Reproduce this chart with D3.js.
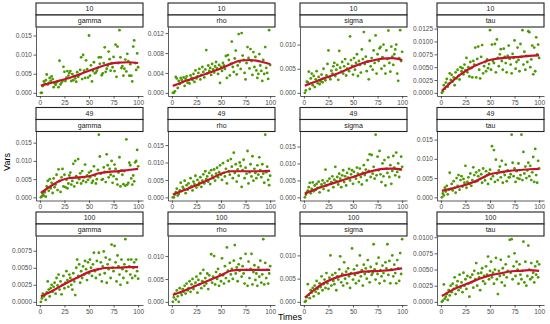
<!DOCTYPE html>
<html>
<head>
<meta charset="utf-8">
<script src="https://cdn.jsdelivr.net/npm/d3@7"></script>
<style>
  body { margin: 0; background: #fff; }
  text { font-family: "Liberation Sans", Arial, sans-serif; }
</style>
</head>
<body>
<div id="chart"></div>
<script>
// facet labels
const sizes = ["10", "49", "100"]
const params = ["gamma", "rho", "sigma", "tau"]

// x values of every point (Times)
const times = [1,2,3,4,5,6,7,8,9,10,11,12,13,14,15,16,17,18,19,20,21,22,23,24,25,26,27,28,29,30,
  31,32,33,34,35,36,37,38,39,40,41,42,43,44,45,46,47,48,49,50,51,52,53,54,55,56,57,58,59,60,
  61,62,63,64,65,66,67,68,69,70,71,72,73,74,75,76,77,78,79,80,81,82,83,84,85,86,87,88,89,90,
  91,92,93,94,95,96,97,98,99,100]
// x values of the fitted (red) line
const smoothTimes = [1,10,20,30,40,50,60,70,80,90,100]

// Vars, in units of 1e-4
const gamma10 = [0,0,18,30,24,33,48,22,26,39, 31,43,36,15,25,21,27,30,15,84, 22,27,31,68,55,31,40,57,45,52,
  57,31,49,33,44,38,29,54,42,47, 60,93,36,99,58,39,85,62,40,150, 45,72,30,57,80,51,53,58,65,93,
  76,93,46,51,78,119,55,63,71,108, 88,58,78,67,94,57,126,42,121,78, 164,93,65,70,45,63,87,56,102,83,
  45,75,45,30,121,137,78,60,103,67]
const rho10 = [0,0,3,32,29,10,24,18,30,26, 22,31,14,28,33,20,25,19,35,30, 26,38,22,45,29,33,40,48,27,36,
  52,42,31,47,86,39,55,44,50,36, 58,47,41,53,62,49,38,56,20,52, 44,60,55,48,74,30,76,66,35,58,
  103,52,42,69,85,37,55,118,62,48, 120,75,66,40,27,60,92,70,49,88, 64,36,82,52,72,45,30,38,78,55,
  44,24,66,38,92,50,40,28,126,56]
const sigma10 = [0,5,23,22,44,8,30,40,16,35, 12,28,45,20,33,18,24,38,22,50, 30,26,36,60,88,32,28,46,40,55,
  62,35,48,58,27,87,52,44,64,40, 55,70,36,50,60,45,117,68,56,38, 72,48,62,80,35,66,58,42,90,70,
  126,60,75,45,65,28,108,55,72,48, 88,62,119,40,80,66,92,95,50,74, 100,56,40,88,70,129,62,44,96,75,
  58,80,90,100,40,25,72,130,66,85]
const tau10 = [0,3,15,8,20,27,12,18,38,25, 35,22,30,15,40,28,45,33,26,50, 42,48,36,55,44,68,40,50,32,60,
  48,30,62,55,88,30,66,90,45,28, 70,93,38,52,60,42,65,48,56,122, 45,94,62,58,95,40,104,68,52,75,
  85,62,45,86,70,58,40,72,92,66, 55,38,76,68,102,47,60,88,64,42, 95,70,122,55,80,45,72,60,120,118,
  50,65,92,36,88,42,108,75,94,68]
const gamma49 = [0,3,10,5,14,2,30,45,18,50, 25,40,12,52,28,35,62,20,77,45, 15,55,78,30,62,28,48,25,38,60,
  68,35,45,92,30,100,58,40,105,50, 66,38,72,45,55,90,42,60,48,68, 55,72,40,45,85,60,38,50,75,172,
  112,65,48,50,82,70,42,118,88,55, 78,62,100,40,58,90,78,50,35,68, 110,30,74,62,36,72,32,159,35,40,
  95,88,52,35,60,44,96,100,130,85]
const rho49 = [0,0,8,15,25,5,10,20,42,18, 30,25,48,12,35,22,40,28,55,32, 20,45,38,62,28,50,35,42,58,30,
  48,66,40,75,52,60,45,70,38,78, 62,55,80,48,68,85,58,72,92,65, 50,98,70,60,82,40,105,75,65,110,
  88,55,128,70,95,45,80,62,100,90, 30,78,108,55,85,68,133,40,72,95, 60,118,48,82,70,55,92,65,115,78,
  58,95,68,42,180,72,88,50,35,62]
const sigma49 = [0,8,15,20,30,43,12,25,44,18, 35,22,40,28,46,15,30,38,50,25, 42,82,35,48,20,55,40,45,62,30,
  52,90,48,60,38,70,55,30,65,80, 45,62,35,72,58,84,50,68,80,40, 75,62,55,88,70,45,85,60,38,72,
  95,66,82,50,110,78,127,60,125,70, 90,55,185,65,120,80,137,68,45,100, 62,110,35,85,72,118,60,95,40,78,
  122,88,65,132,75,100,60,82,120,90]
const tau49 = [0,10,5,25,15,30,8,20,64,22, 35,18,42,25,12,50,30,58,20,45, 55,28,48,38,82,25,40,52,35,62,
  30,45,78,58,40,65,42,55,70,48, 60,38,75,52,44,68,58,35,62,72, 48,133,55,123,40,98,62,45,70,80,
  52,95,38,65,58,85,42,70,52,52, 60,163,90,55,75,40,68,50,88,48, 58,163,45,118,62,80,50,70,90,55,
  82,45,65,105,40,126,58,38,95,75]
const gamma100 = [0,5,12,8,10,3,14,30,18,8, 20,25,15,22,28,12,35,24,40,18, 30,11,25,38,20,28,45,32,22,40,
  35,25,18,42,30,10,50,62,38,55, 28,45,35,52,40,60,48,32,58,42, 62,50,38,55,72,45,35,60,48,72,
  40,58,30,52,74,42,65,28,55,48, 62,35,84,50,45,82,58,30,68,52, 40,25,62,48,35,55,92,45,28,62,
  52,40,62,35,50,58,38,62,45,34]
const rho100 = [0,10,18,5,25,12,0,30,20,15, 28,22,35,18,40,25,30,45,22,38, 50,28,35,42,55,20,48,38,62,30,
  45,70,35,52,40,62,28,58,48,104, 42,55,100,38,65,50,72,35,60,45, 95,58,40,78,52,119,68,45,85,60,
  72,50,90,124,62,75,45,82,68,95, 55,78,62,40,105,70,35,88,52,72, 105,38,65,80,48,62,35,75,55,90,
  42,60,137,38,85,52,70,40,62,78]
const sigma100 = [0,2,10,38,15,8,25,20,30,12, 35,22,45,28,18,40,32,55,25,38, 48,30,62,40,28,52,100,35,58,45,
  38,62,25,55,48,70,98,42,60,35, 85,50,65,40,72,55,30,62,115,48, 70,58,40,78,62,45,100,55,68,35,
  80,60,72,50,90,65,42,75,58,62, 124,70,48,82,60,95,40,68,55,78, 62,45,85,72,124,58,88,40,70,100,
  55,80,62,40,90,72,45,105,60,135]
const tau100 = [0,2,27,5,8,12,3,18,10,25, 15,28,20,38,12,25,32,18,42,22, 30,15,45,25,35,20,40,28,8,38,
  30,42,22,48,35,60,25,44,38,18, 45,52,32,40,28,55,42,70,35,48, 62,38,45,28,50,68,35,12,48,40,
  65,30,52,42,25,58,38,48,70,96, 45,97,35,55,75,40,62,50,28,58, 42,35,48,93,30,62,25,40,87,50,
  35,60,38,45,30,55,42,62,38,58]

// fitted line, units of 1e-4
const fit10 = [
  [19,25,32,39,48,58,67,75,79,80,78],
  [14,21,28,35,42,49,58,65,66,63,58],
  [15,22,30,37,45,54,62,67,71,72,68],
  [4,20,36,48,57,64,67,69,70,72,73]]
const fit49 = [
  [12,29,45,53,55,58,66,70,72,75,78],
  [8,18,29,41,54,68,75,75,75,75,76],
  [11,22,33,42,51,60,70,78,84,85,82],
  [17,22,29,37,48,60,65,69,71,73,74]]
const fit100 = [
  [8,14,22,30,37,44,48,50,50,51,51],
  [15,22,31,40,49,58,68,70,70,70,70],
  [9,25,40,50,57,61,65,66,67,69,72],
  [9,17,24,30,36,41,44,47,48,49,48]]

// y tick labels of each panel
const ticks10 = [
  ["0.000","0.005","0.010","0.015"],
  ["0.000","0.004","0.008","0.012"],
  ["0.000","0.005","0.010"],
  ["0.0000","0.0025","0.0050","0.0075","0.0100","0.0125"]]
const ticks49 = [
  ["0.000","0.005","0.010","0.015"],
  ["0.000","0.005","0.010","0.015"],
  ["0.000","0.005","0.010","0.015"],
  ["0.000","0.005","0.010","0.015"]]
const ticks100 = [
  ["0.0000","0.0025","0.0050","0.0075"],
  ["0.000","0.005","0.010"],
  ["0.000","0.005","0.010"],
  ["0.0000","0.0025","0.0050","0.0075","0.0100"]]
const xTicks = [0, 25, 50, 75, 100]

const points = [
  [gamma10, rho10, sigma10, tau10],
  [gamma49, rho49, sigma49, tau49],
  [gamma100, rho100, sigma100, tau100]]
const fits = [fit10, fit49, fit100]
const yTicks = [ticks10, ticks49, ticks100]
const unit = 1e-4

const width = 550, height = 324
const colLeft = [36, 168, 300, 437]
const panelW = 107
const rowTop = [3, 107.5, 212]
const stripH = 12
const panelH = 69

const green = "#4a9a00"
const red = "#c8102e"

const svg = d3.select("#chart").append("svg")
  .attr("width", width)
  .attr("height", height)
  .style("background", "#fff")

const x = d3.scaleLinear().domain([-3.95, 104.95])

sizes.forEach((size, r) => {
  params.forEach((param, c) => {
    const left = colLeft[c]
    const top = rowTop[r] + stripH * 2
    const g = svg.append("g").attr("transform", `translate(${left},${top})`)

    const vals = points[r][c].map(v => v * unit)
    const fit = fits[r][c].map(v => v * unit)
    const lo = Math.min(d3.min(vals), d3.min(fit))
    const hi = Math.max(d3.max(vals), d3.max(fit))
    const pad = (hi - lo) * 0.05
    const y = d3.scaleLinear().domain([lo - pad, hi + pad]).range([panelH, 0])
    const xs = x.copy().range([0, panelW])

    // strips
    const labels = [size, param]
    labels.forEach((lab, k) => {
      const sy = -stripH * (2 - k)
      g.append("rect")
        .attr("x", 0).attr("y", sy)
        .attr("width", panelW).attr("height", stripH)
        .attr("fill", "#fff").attr("stroke", "#222").attr("stroke-width", 1.1)
      g.append("text")
        .attr("x", panelW / 2).attr("y", sy + stripH / 2)
        .attr("dy", "0.35em").attr("text-anchor", "middle")
        .attr("font-size", 7).attr("fill", "#1a1a1a")
        .text(lab)
    })

    // points
    g.append("g").selectAll("circle")
      .data(vals)
      .join("circle")
      .attr("cx", (d, i) => xs(times[i]))
      .attr("cy", d => y(d))
      .attr("r", 1.4)
      .attr("fill", green)

    // fitted line
    g.append("path")
      .datum(fit)
      .attr("d", d3.line()
        .x((d, i) => xs(smoothTimes[i]))
        .y(d => y(d))
        .curve(d3.curveMonotoneX))
      .attr("fill", "none")
      .attr("stroke", red)
      .attr("stroke-width", 2.2)

    // axes
    const tl = yTicks[r][c]
    const yAxis = d3.axisLeft(y)
      .tickValues(tl.map(Number))
      .tickFormat((d, i) => tl[i])
      .tickSizeInner(2.5).tickSizeOuter(0).tickPadding(1.5)
    const xAxis = d3.axisBottom(xs)
      .tickValues(xTicks)
      .tickSizeInner(2.5).tickSizeOuter(0).tickPadding(1.5)

    const ya = g.append("g").call(yAxis)
    const xa = g.append("g").attr("transform", `translate(0,${panelH})`).call(xAxis)
    ;[ya, xa].forEach(a => {
      a.select(".domain").attr("stroke", "#333").attr("stroke-width", 0.8)
      a.selectAll(".tick line").attr("stroke", "#333").attr("stroke-width", 0.8)
      a.selectAll(".tick text")
        .attr("font-size", 6.5)
        .attr("fill", "#4d4d4d")
        .style("font-family", "'Liberation Sans', Arial, sans-serif")
    })
  })
})

// axis titles
svg.append("text")
  .attr("x", (colLeft[0] + colLeft[3] + panelW) / 2)
  .attr("y", 320)
  .attr("text-anchor", "middle")
  .attr("font-size", 9)
  .attr("fill", "#000")
  .text("Times")

svg.append("text")
  .attr("transform", "translate(10,162) rotate(-90)")
  .attr("text-anchor", "middle")
  .attr("font-size", 9)
  .attr("fill", "#000")
  .text("Vars")
</script>
</body>
</html>
